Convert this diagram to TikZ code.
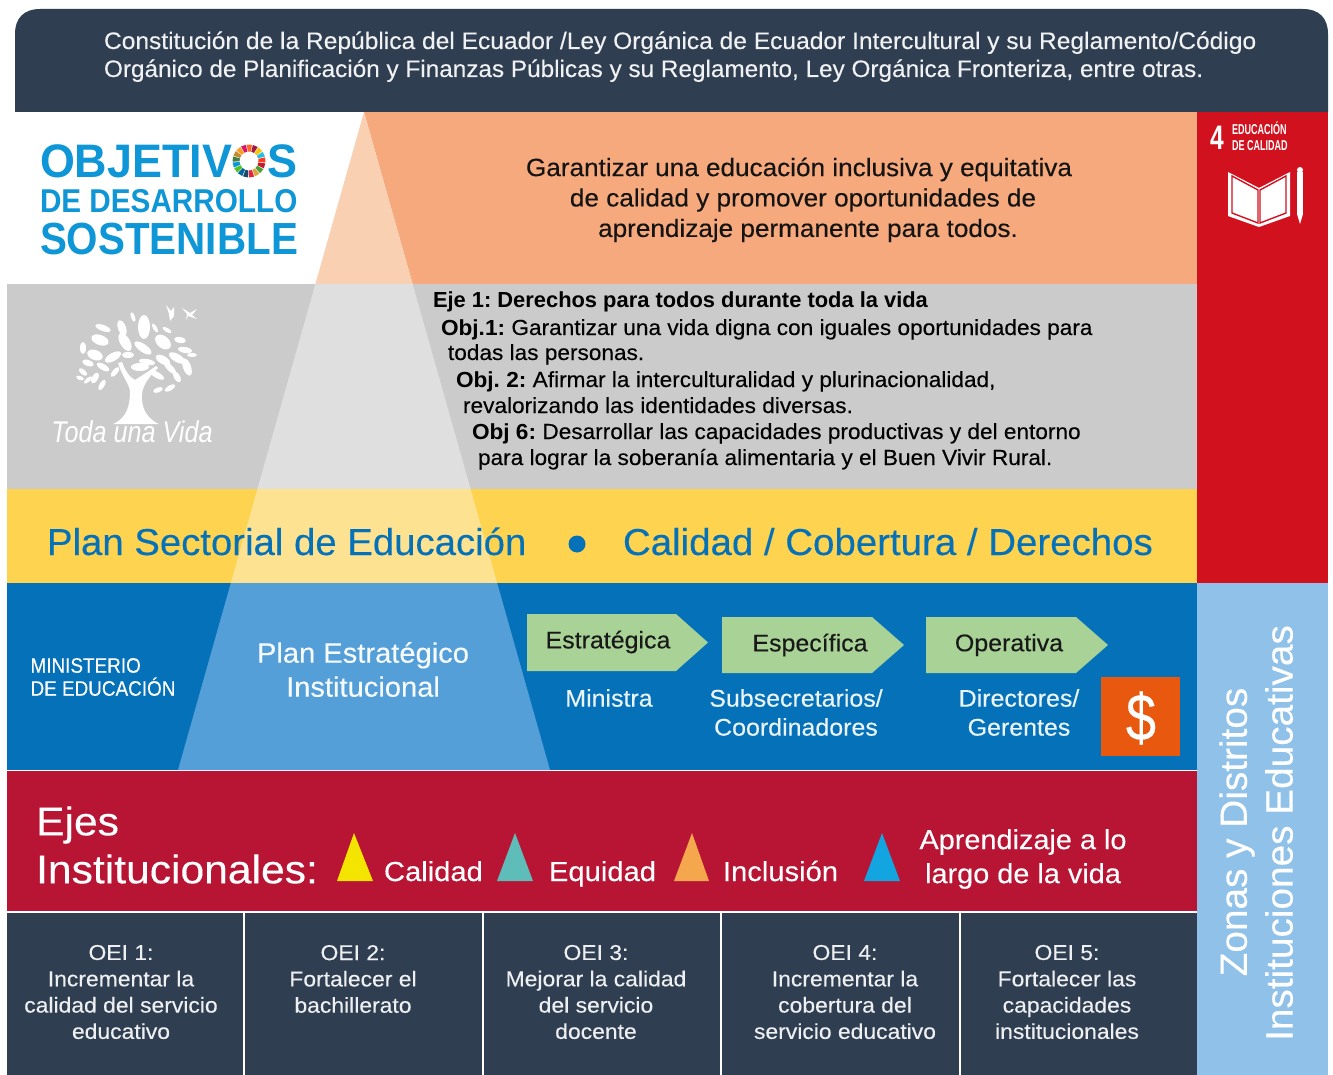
\documentclass[tikz,border=0pt]{standalone}
\usepackage{fontspec}
\setmainfont[UprightFeatures={FakeBold=0.25}]{Liberation Sans}
\usetikzlibrary{calc}
\frenchspacing
\definecolor{navyc}{HTML}{2F3E50}
\definecolor{orangec}{HTML}{F5A97C}
\definecolor{orangel}{HTML}{FAD0B2}
\definecolor{greyc}{HTML}{CCCBCB}
\definecolor{greyl}{HTML}{E0DFDF}
\definecolor{yellowc}{HTML}{FDD350}
\definecolor{yellowl}{HTML}{FDE391}
\definecolor{blueb}{HTML}{0571B9}
\definecolor{bluel}{HTML}{559FD8}
\definecolor{crimc}{HTML}{B81434}
\definecolor{redc}{HTML}{D2111E}
\definecolor{lblue}{HTML}{8FC1E9}
\definecolor{sdgblue}{HTML}{0E96D6}
\definecolor{arrowg}{HTML}{A9D297}
\definecolor{dollar}{HTML}{E8590F}
\definecolor{tyel}{HTML}{F4E500}
\definecolor{tteal}{HTML}{5FBDB9}
\definecolor{torg}{HTML}{F5A74E}
\definecolor{tblu}{HTML}{12A5E0}
\newcommand{\fs}[2]{\fontsize{#1}{#2}\selectfont}
\tikzset{
 x=1pt,y=-1pt,
 txt/.style={inner sep=0,outer sep=0,anchor=base west},
 ctr/.style={inner sep=0,outer sep=0,align=center,anchor=center},
 leaf/.style={fill=white,draw=none},
 pent/.style={fill=arrowg,draw=none},
 tri/.style={draw=none},
 oei/.style={ctr,text=white!92!navyc,font=\fs{21.5}{26.3},xscale=1.065},
 armtxt/.style={ctr,font=\fs{24}{26},text=black!90,xscale=1.04},
 role/.style={ctr,font=\fs{24}{29},text=white!92!blueb,xscale=1.04},
 axis/.style={txt,text=white,font=\fs{27.5}{30},xscale=1.06},
 ejetxt/.style={txt,text=black,font=\fs{21.8}{26},xscale=1.038},
 goaltxt/.style={ctr,text=black!92,font=\fs{25}{30},xscale=1.045},
 sdgsmall/.style={txt,text=white,font=\bfseries\fs{11}{11},xscale=.82,yscale=1.3},
}
\begin{document}
\begin{tikzpicture}
\useasboundingbox (0,0) rectangle (1333,1075);
\fill[white] (0,0) rectangle (1333,1075);
% bands
\fill[orangec] (364,112) -- (1197,112) -- (1197,284) -- (412.6,284) -- cycle;
\fill[orangel] (364,112) -- (412.6,284) -- (315.4,284) -- cycle;
\fill[greyc] (7,284) rectangle (1197,489);
\fill[yellowc] (7,489) rectangle (1197,583);
\fill[blueb] (7,583) rectangle (1197,770);
\fill[crimc] (7,771) rectangle (1197,911);
\fill[navyc] (7,913) rectangle (1197,1075);
\fill[redc] (1197,112) rectangle (1328,583);
\fill[lblue] (1197,583) rectangle (1328,1075);
\fill[navyc] (15,112) -- (15,34) .. controls (15,18) and (24,9) .. (40,9) -- (1303,9) .. controls (1319,9) and (1328,18) .. (1328,34) -- (1328,112) -- cycle;
% pyramid
\fill[greyl] (315.4,284) -- (412.6,284) -- (470.6,489) -- (257.4,489) -- cycle;
\fill[yellowl] (257.4,489) -- (470.6,489) -- (497.2,583) -- (230.8,583) -- cycle;
\fill[bluel] (230.8,583) -- (497.2,583) -- (550,770) -- (178,770) -- cycle;
% cell separators
\foreach \xx in {244,483,721,960} \draw[white,line width=1.6pt] (\xx,913) -- (\xx,1075);
% top text
\node[txt,text=white!93!navyc,font=\fs{23.8}{28},xscale=1.032] (law1) at (104,49) {Constitución de la República del Ecuador /Ley Orgánica de Ecuador Intercultural y su Reglamento/Código};
\node[txt,text=white!93!navyc,font=\fs{23.8}{28},xscale=1.022] (law2) at (104,77) {Orgánico de Planificación y Finanzas Públicas y su Reglamento, Ley Orgánica Fronteriza, entre otras.};
% SDG logo
\node[txt,text=sdgblue,font=\bfseries\fs{47}{47},xscale=.955] (ob1) at (40,178) {OBJETIV};
\node[txt,text=sdgblue,font=\bfseries\fs{47}{47},xscale=.955] (ob2) at (267,178) {S};
\node[txt,text=sdgblue,font=\bfseries\fs{33}{33},xscale=.9] (ob3) at (40,213) {DE DESARROLLO};
\node[txt,text=sdgblue,font=\bfseries\fs{45}{45},xscale=.897] (ob4) at (40,255) {SOSTENIBLE};
\foreach \i/\c in {0/E5243B,1/DDA63A,2/4C9F38,3/C5192D,4/FF3A21,5/26BDE2,6/FCC30B,7/A21942,8/FD6925,9/DD1367,10/FD9D24,11/BF8B2E,12/3F7E44,13/0A97D9,14/56C02B,15/00689D,16/19486A}{
 \definecolor{wc}{HTML}{\c}
 \fill[wc] ($(249,161)+({90-\i*21.18}:16.5)$) arc[start angle={90-\i*21.18},end angle={90-\i*21.18-18},radius=16.5] -- ($(249,161)+({90-\i*21.18-18}:9.5)$) arc[start angle={90-\i*21.18-18},end angle={90-\i*21.18},radius=9.5] -- cycle;
}
% tree
\foreach \px/\py/\ang/\ra/\rb in {
144/327/90/12/6, 122/328/70/8/4, 103/328/20/8/3, 133/317/70/5/2, 100/340/20/9/5, 125/342/60/10/5, 143/348/35/10/4,
163/342/40/9/6, 180/340/10/6/3, 185/350/10/7/3, 83/348/90/6/3, 95/355/20/8/5, 113/357/-30/9/4, 128/355/0/6/3,
147/362/10/8/3, 163/360/30/8/4, 177/358/30/9/4, 192/355/0/5/2, 88/363/20/6/3, 103/367/30/7/3, 140/367/0/9/4,
170/368/45/8/3, 187/367/70/9/4, 177/377/60/6/3, 83/372/40/5/2.5, 95/378/-60/6/3, 80/378/20/4/2, 102/385/-60/6/2.5,
88/380/-40/5/2, 157/375/30/8/3, 170/388/-30/6/2.5, 158/390/-20/5/2.5, 155/328/60/5/2, 167/330/30/5/2, 115/372/-50/6/2.5}{
 \fill[leaf] (\px,\py) ellipse[x radius=\ra,y radius=\rb,rotate=-\ang];
}
\fill[leaf] (113,424) .. controls (127,418) and (130,405) .. (130,392) .. controls (130,385) and (123,378) .. (118,363) -- (122,362) .. controls (126,373) and (131,378) .. (135,380) .. controls (141,376) and (148,372) .. (156,366) -- (158,368) .. controls (150,376) and (143,384) .. (142,394) .. controls (141,405) and (145,418) .. (159,424) -- cycle;
\fill[leaf] (166,305) -- (171,311) -- (174,307) -- (174,316) -- (170,321) -- (169,314) -- cycle;
\fill[leaf] (182,308) -- (190,313) -- (197,309) -- (192,315) -- (197,319) -- (188,316) -- (186,320) -- (187,314) -- cycle;
\node[ctr,text=white,font=\itshape\fs{30}{30},xscale=.84] (toda) at (132,432) {Toda una Vida};
% goal text
\node[goaltxt] (g1) at (799,169.5) {Garantizar una educación inclusiva y equitativa};
\node[goaltxt] (g2) at (803,200) {de calidad y promover oportunidades de};
\node[goaltxt] (g3) at (808,230.5) {aprendizaje permanente para todos.};
% Eje text
\foreach \nm/\xx/\yy/\t in {
 e2/441/335/{\textbf{Obj.1:} Garantizar una vida digna con iguales oportunidades para},
 e3/448/360/{todas las personas.},
 e4/456/387/{\textbf{Obj. 2:} Afirmar la interculturalidad y plurinacionalidad,},
 e5/463/413/{revalorizando las identidades diversas.},
 e6/472/439/{\textbf{Obj 6:} Desarrollar las capacidades productivas y del entorno},
 e7/478/465/{para lograr la soberanía alimentaria y el Buen Vivir Rural.}}{
 \node[ejetxt] (\nm) at (\xx,\yy) {\t};
}
\node[ejetxt,xscale=.967] (e1) at (433,308) {\textbf{Eje 1: Derechos para todos durante toda la vida}};
% plan sectorial
\node[txt,text=blueb,font=\fs{37.5}{40},xscale=1.022] (ps) at (47,555) {Plan Sectorial de Educación};
\fill[blueb] (577,544) circle (8.5);
\node[txt,text=blueb,font=\fs{37.5}{40},xscale=1.025] (cal) at (623,555) {Calidad / Cobertura / Derechos};
% ministerio
\node[ctr,text=white,font=\fs{21}{23},xscale=.9,align=left] (min) at (103,677) {MINISTERIO\\DE EDUCACIÓN};
\node[ctr,text=white!95!bluel,font=\fs{28}{34},xscale=1.04] (pei) at (363,669.5) {Plan Estratégico\\Institucional};
% arrows
\fill[pent] (527,614) -- (676,614) -- (708,642.5) -- (676,671) -- (527,671) -- cycle;
\fill[pent] (722,617) -- (872,617) -- (904,645) -- (872,673) -- (722,673) -- cycle;
\fill[pent] (926,617) -- (1076,617) -- (1108,645) -- (1076,673) -- (926,673) -- cycle;
\node[armtxt] (a1) at (608,642) {Estratégica};
\node[armtxt] (a2) at (810,645) {Específica};
\node[armtxt] (a3) at (1009,645) {Operativa};
\node[role] (b1) at (609,698) {Ministra};
\node[role] (b2) at (796,712.5) {Subsecretarios/\\Coordinadores};
\node[role] (b3) at (1019,712.5) {Directores/\\Gerentes};
\fill[dollar] (1101,677) rectangle (1180,756);
\node[ctr,text=white,font=\fs{66}{66},xscale=.82] (usd) at (1141,718) {\$};
% ejes
\node[ctr,text=white,font=\fs{40}{48},align=left,xscale=1.065] (ej) at (177,845) {Ejes\\Institucionales:};
\fill[tyel,tri] (337,881) -- (373,881) -- (354,833) -- cycle;
\fill[tteal,tri] (497,881) -- (533,881) -- (515,833) -- cycle;
\fill[torg,tri] (674,881) -- (709,881) -- (692,833) -- cycle;
\fill[tblu,tri] (864,881) -- (900,881) -- (882,833) -- cycle;
\node[axis] (c1) at (384,881) {Calidad};
\node[axis] (c2) at (549,881) {Equidad};
\node[axis] (c3) at (723,881) {Inclusión};
\node[ctr,text=white,font=\fs{27.5}{34},xscale=1.05] (c4) at (1023,859) {Aprendizaje a lo\\largo de la vida};
% OEI
\node[oei] (o1) at (121,992) {OEI 1:\\Incrementar la\\calidad del servicio\\educativo};
\node[oei] (o2) at (353,979) {OEI 2:\\Fortalecer el\\bachillerato};
\node[oei] (o3) at (596,992) {OEI 3:\\Mejorar la calidad\\del servicio\\docente};
\node[oei] (o4) at (845,992) {OEI 4:\\Incrementar la\\cobertura del\\servicio educativo};
\node[oei] (o5) at (1067,992) {OEI 5:\\Fortalecer las\\capacidades\\institucionales};
% side text
\node[ctr,text=white,font=\fs{38}{38},rotate=90,xscale=1.02] (z1) at (1237,832) {Zonas y Distritos};
\node[ctr,text=white,font=\fs{38}{38},rotate=90,xscale=1.02] (z2) at (1279,833) {Instituciones Educativas};
% SDG 4
\node[ctr,text=white,font=\bfseries\fs{34}{34},xscale=.72] (n4) at (1217,138) {4};
\node[sdgsmall] (n4a) at (1232,135) {EDUCACIÓN};
\node[sdgsmall] (n4b) at (1232,151) {DE CALIDAD};
\fill[white] (1228,172) -- (1259,188) -- (1290,172) -- (1290,216) -- (1259,227) -- (1228,216) -- cycle;
\draw[redc,line width=1.4pt] (1232,176) -- (1232,213) -- (1258,223) -- (1258,190) -- cycle;
\draw[redc,line width=1.4pt] (1286,176) -- (1286,213) -- (1260,223) -- (1260,190) -- cycle;
\fill[white] (1297,172) rectangle (1303,214);
\fill[white] (1300,170) circle (3);
\fill[white] (1297,214) -- (1303,214) -- (1300,224) -- cycle;
\end{tikzpicture}
\end{document}
